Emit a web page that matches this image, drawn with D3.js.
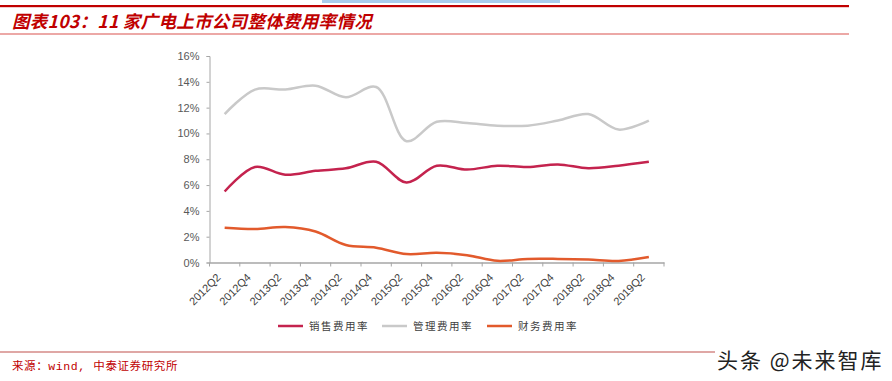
<!DOCTYPE html>
<html>
<head>
<meta charset="utf-8">
<script src="https://cdn.jsdelivr.net/npm/d3@7"></script>
<style>
  body { margin: 0; background: #fff; }
  svg { display: block; }
</style>
</head>
<body>
<div id="chart"></div>
<script>
// semi-annual periods
const periods = ["2012Q2", "2012Q4", "2013Q2", "2013Q4", "2014Q2", "2014Q4", "2015Q2", "2015Q4",
    "2016Q2", "2016Q4", "2017Q2", "2017Q4", "2018Q2", "2018Q4", "2019Q2"]

// values in percent
const salesRate = [5.5, 7.4, 6.8, 7.1, 7.3, 7.8, 6.2, 7.5, 7.2, 7.5, 7.4, 7.6, 7.3, 7.5, 7.8]
const adminRate = [11.5, 13.4, 13.4, 13.7, 12.8, 13.6, 9.4, 10.9, 10.8, 10.6, 10.6, 11.0, 11.5, 10.3, 11.0]
const financeRate = [2.7, 2.6, 2.75, 2.4, 1.35, 1.15, 0.65, 0.75, 0.57, 0.13, 0.28, 0.28, 0.23, 0.12, 0.43]

const seriesNames = ["销售费用率", "管理费用率", "财务费用率"]
const seriesColors = ["#c4234e", "#c9c9c9", "#e25a2c"]
const yTicks = [0, 2, 4, 6, 8, 10, 12, 14, 16]

const width = 892
const height = 381

const svg = d3.select("#chart")
    .append("svg")
    .attr("width", width)
    .attr("height", height)

// header
svg.append("rect").attr("x", 322).attr("y", 0).attr("width", 238).attr("height", 3).attr("fill", "#a9cdee")
svg.append("rect").attr("x", 0).attr("y", 5).attr("width", 849).attr("height", 2.2).attr("fill", "#c00000")
svg.append("text")
    .attr("x", 12)
    .attr("y", 28)
    .attr("fill", "#c00000")
    .style("font-family", "'Noto Sans CJK SC', sans-serif")
    .style("font-size", "17.5px")
    .style("font-weight", "bold")
    .style("font-style", "italic")
    .style("letter-spacing", "0.3px")
    .text("图表103：11 家广电上市公司整体费用率情况")
svg.append("rect").attr("x", 0).attr("y", 33.5).attr("width", 849).attr("height", 1).attr("fill", "#d9534f")

const x = d3.scaleBand()
    .domain(periods)
    .range([209.5, 664])

const y = d3.scaleLinear()
    .domain([0, 16])
    .range([262.5, 56])

const xc = d => x(d) + x.bandwidth() / 2

// y axis
const yAxis = svg.append("g")
    .attr("transform", "translate(209.5,0)")
    .call(d3.axisLeft(y).tickValues(yTicks).tickSize(3).tickPadding(7).tickFormat(d => d + "%"))
yAxis.select(".domain").attr("stroke", "#a6a6a6")
yAxis.selectAll(".tick line").attr("stroke", "#a6a6a6")
yAxis.selectAll("text")
    .attr("fill", "#595959")
    .style("font-family", "'Liberation Sans', Arial, sans-serif")
    .style("font-size", "11px")

// x axis, ticks sit between categories
const xAxis = svg.append("g")
    .attr("transform", "translate(0,262.5)")
    .call(d3.axisBottom(x).tickSize(0).tickPadding(0))
xAxis.select(".domain").attr("stroke", "#a6a6a6").attr("stroke-width", 1.5)
xAxis.selectAll(".tick text")
    .attr("fill", "#404040")
    .style("font-family", "'Liberation Sans', Arial, sans-serif")
    .style("font-size", "11px")
    .attr("text-anchor", "end")
    .attr("dy", "0.35em")
    .attr("transform", "translate(-6,13) rotate(-45)")
xAxis.selectAll(".boundary")
    .data(periods.concat(["end"]))
    .enter()
    .append("line")
    .attr("x1", (d, i) => i < periods.length ? x(d) : x.range()[1])
    .attr("x2", (d, i) => i < periods.length ? x(d) : x.range()[1])
    .attr("y1", 0)
    .attr("y2", 4)
    .attr("stroke", "#a6a6a6")

// lines
const allSeries = [salesRate, adminRate, financeRate]
const line = d3.line()
    .x((d, i) => xc(periods[i]))
    .y(d => y(d))
    .curve(d3.curveCatmullRom.alpha(0.5))

svg.append("g")
    .selectAll("path")
    .data(allSeries)
    .enter()
    .append("path")
    .attr("d", d => line(d))
    .attr("fill", "none")
    .attr("stroke", (d, i) => seriesColors[i])
    .attr("stroke-width", 2.5)
    .attr("stroke-linejoin", "round")

// legend
const legendX = [278, 382, 487]
const legend = svg.append("g")
    .selectAll("g")
    .data(seriesNames)
    .enter()
    .append("g")
    .attr("transform", (d, i) => `translate(${legendX[i]},326)`)
legend.append("line")
    .attr("x1", 0).attr("x2", 25)
    .attr("stroke", (d, i) => seriesColors[i])
    .attr("stroke-width", 2.5)
legend.append("text")
    .attr("x", 31)
    .attr("dy", "0.35em")
    .attr("fill", "#404040")
    .style("font-family", "'Noto Sans CJK SC', sans-serif")
    .style("font-size", "10.5px")
    .style("letter-spacing", "1.5px")
    .text(d => d)

// footer
svg.append("rect").attr("x", 0).attr("y", 351.5).attr("width", 715).attr("height", 1).attr("fill", "#c0504d")
svg.append("text")
    .attr("x", 12)
    .attr("y", 370)
    .attr("fill", "#c00000")
    .style("font-family", "'Liberation Mono', 'Noto Sans CJK SC', monospace")
    .style("font-size", "11.5px")
    .style("letter-spacing", "0.6px")
    .text("来源：wind, 中泰证券研究所")
svg.append("text")
    .attr("x", 717)
    .attr("y", 368)
    .attr("fill", "#222")
    .attr("stroke", "#fff")
    .attr("stroke-width", 2)
    .style("paint-order", "stroke")
    .style("font-family", "'Noto Sans CJK SC', sans-serif")
    .style("font-size", "21px")
    .style("letter-spacing", "2px")
    .text("头条 @未来智库")
</script>
</body>
</html>
